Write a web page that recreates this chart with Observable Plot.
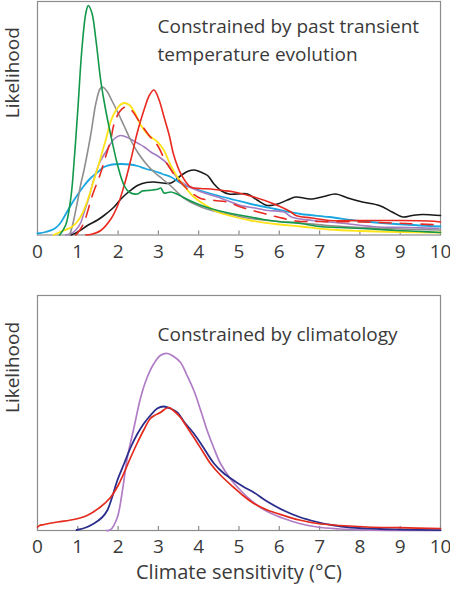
<!DOCTYPE html>
<html>
<head>
<meta charset="utf-8">
<script src="https://cdn.jsdelivr.net/npm/d3@7"></script>
<script src="https://cdn.jsdelivr.net/npm/@observablehq/plot@0.6"></script>
<style>
  html, body { margin: 0; padding: 0; background: #fff; }
  #chart { width: 450px; }
  #chart svg { display: block; }
</style>
</head>
<body>
<div id="chart"></div>
<script>
// ---- data (x = climate sensitivity °C, y = likelihood, arbitrary units) ----
const xTicks = [0, 1, 2, 3, 4, 5, 6, 7, 8, 9, 10];
const topTitle = "Constrained by past transient\ntemperature evolution";
const bottomTitle = "Constrained by climatology";
const yLabel = "Likelihood";
const xLabel = "Climate sensitivity (°C)";

// top panel series
const topBlack = [[0.83,0],[1.0,3],[1.24,9.5],[1.49,15],[1.65,19.5],[1.9,28],[2.07,36],[2.23,42],[2.48,49.5],[2.7,52.5],[2.89,53],[3.1,52],[3.31,52],[3.56,59.5],[3.75,64],[3.89,65],[4.05,63],[4.22,59.5],[4.38,51],[4.55,44.5],[4.75,41],[4.96,41],[5.21,41],[5.45,35],[5.71,29.5],[5.96,31],[6.2,35],[6.41,38],[6.6,37],[6.82,36],[7.1,38.5],[7.4,41],[7.7,37],[8.06,33],[8.48,29.5],[8.8,23],[9.06,18],[9.3,19.5],[9.55,20.5],[9.8,20],[10,19.5]];
const topCyan = [[0,1.5],[0.2,3],[0.41,6],[0.55,11],[0.66,18],[0.83,30],[0.99,40],[1.15,49],[1.32,57],[1.5,63],[1.65,68],[1.85,70.5],[2.07,71],[2.3,70.5],[2.48,69],[2.7,66],[2.89,64],[3.1,61],[3.31,58],[3.64,50],[4.0,45],[4.47,39.5],[4.9,35],[5.29,31],[5.9,26],[6.53,21],[7.24,18],[8.0,14],[8.89,11],[10,8.5]];
const topPurple = [[0.7,0],[0.83,1.5],[0.95,5],[1.07,12],[1.16,23],[1.28,38],[1.40,56],[1.55,73],[1.74,86],[1.9,96],[2.05,99.5],[2.2,98],[2.35,95],[2.48,92],[2.65,88],[2.81,83],[3.02,78],[3.23,71],[3.45,58],[3.64,51],[4.0,44],[4.47,38],[5.04,29.5],[5.4,27],[5.71,24.5],[6.12,23],[6.3,18],[6.82,14.5],[7.5,12],[8.47,8],[9.2,7.5],[9.96,6.5]];
const topGray = [[0.8,0],[0.87,10],[0.99,33],[1.08,52],[1.16,66],[1.32,100],[1.45,132],[1.55,146],[1.61,148],[1.72,144],[1.85,134],[2.0,122],[2.15,109],[2.3,96],[2.48,83],[2.7,71],[2.89,63],[3.1,56],[3.31,49],[3.63,37],[4.0,29],[4.47,23],[4.9,19.5],[5.29,16.5],[6.0,13.5],[6.53,12],[7.2,9.5],[8.0,7.5],[9.0,6],[10,5]];
const topYellow = [[0.4,0],[0.65,4.5],[0.85,8],[1.0,14],[1.12,22],[1.28,39],[1.40,55],[1.5,68],[1.6,82],[1.7,96],[1.82,114],[1.95,125],[2.05,130],[2.15,132],[2.28,130],[2.42,122],[2.56,110],[2.75,100],[2.98,93],[3.14,84.5],[3.3,70],[3.47,58],[3.7,46],[3.88,38],[4.2,29],[4.47,23],[4.9,18],[5.29,14.5],[6.0,10.5],[6.53,8.5],[7.23,5.5],[8.0,4],[9.0,3],[10,2.5]];
const topRedDash = [[0.95,0],[1.05,5],[1.16,13],[1.24,23],[1.36,39.5],[1.55,60],[1.65,73],[1.82,96],[1.9,111],[2.05,124],[2.19,128],[2.35,124],[2.5,115],[2.77,99.5],[2.98,89.5],[3.2,72],[3.5,55],[3.8,43],[4.05,36.5],[4.4,34.5],[4.71,33],[5.04,28],[5.62,21.5],[5.96,18],[6.41,14],[7.0,13.5],[8.06,13],[9.14,11.5],[10,10]];
const topRed = [[1.2,0],[1.32,0.5],[1.57,4.5],[1.82,16],[1.99,29.5],[2.15,49.5],[2.32,76],[2.48,103],[2.65,126],[2.78,140],[2.89,145],[3.0,137],[3.14,118],[3.27,99.5],[3.38,80],[3.56,61],[3.8,48],[4.05,46.5],[4.3,46],[4.6,44.5],[4.88,43],[5.37,38],[5.87,31],[6.29,23],[6.41,19.5],[6.8,17],[7.24,14.5],[8.0,14.5],[8.89,14.5],[9.7,14],[10,13]];
const topGreen = [[0.55,0],[0.7,10],[0.83,38],[0.92,80],[1.0,125],[1.1,185],[1.2,222],[1.26,229.5],[1.35,222],[1.45,195],[1.57,154],[1.66,132],[1.74,115],[1.82,99.5],[1.99,69.5],[2.15,49.5],[2.27,43],[2.48,41],[2.6,44],[2.73,44.5],[2.85,45],[3.0,46],[3.06,47],[3.14,42],[3.31,43],[3.43,41.5],[3.6,38],[3.8,34],[4.1,29],[4.47,24.5],[4.87,21],[5.29,18],[5.6,15.5],[5.96,13.5],[6.53,11.5],[7.0,8.5],[7.5,7.5],[8.06,6.5],[8.5,5.5],[8.9,4.5],[9.5,3.5],[10,2.5]];

// bottom panel series
const botRed = [[0,3.5],[0.05,5],[0.16,6],[0.5,8.5],[0.9,11],[1.23,15],[1.56,23.5],[1.81,33],[2.0,45],[2.14,57],[2.3,72],[2.47,87],[2.63,100],[2.8,112],[2.9,115],[3.05,118],[3.15,121],[3.26,123],[3.4,119],[3.55,113],[3.7,104],[3.88,93],[4.1,79],[4.29,67],[4.55,55],[4.87,43],[5.1,35],[5.37,27],[5.7,20.5],[6.11,15],[6.5,10.5],[6.94,7],[7.5,5],[8.18,3.5],[9.0,2.8],[10,2]];
const botNavy = [[0.97,0.5],[1.2,3],[1.4,7],[1.6,13],[1.73,20],[1.85,33],[1.98,50],[2.15,67],[2.31,83],[2.47,96],[2.64,107],[2.8,115],[2.97,122],[3.13,124],[3.3,122],[3.47,118],[3.65,108],[3.88,97],[4.1,84],[4.38,67],[4.6,58],[4.87,50],[5.1,44],[5.37,38],[5.7,29],[6.11,20],[6.5,13.5],[6.94,8.5],[7.3,5.5],[7.77,3],[8.5,1.5],[9.0,1],[10,0.3]];
const botPurple = [[1.7,0],[1.81,0.7],[1.98,13],[2.1,38],[2.23,73],[2.4,104],[2.56,133],[2.72,153],[2.89,167],[3.05,175],[3.22,177],[3.38,174],[3.55,168],[3.7,156],[3.88,140],[4.05,120],[4.21,100],[4.38,82],[4.54,67],[4.8,51],[5.04,40],[5.3,30],[5.53,23],[5.8,17],[6.11,12],[6.5,7],[6.94,3.5],[7.5,1.5],[8.0,0.5],[10,0]];

// ---- drawing ----
const FONT = "'Open Sans', 'DejaVu Sans', sans-serif";
const TEXT = "#3a3a3a";
const FRAME = "#8c8c8c";

function panel({height, marginTop, marginBottom, yMax, series, title, titleDy, withXLabel}) {
  const marks = [
    Plot.frame({stroke: FRAME, strokeWidth: 1.2}),
    Plot.ruleX(xTicks, {y1: 0, y2: 4, stroke: FRAME, strokeWidth: 1.2}),
    Plot.axisX(xTicks, {tickSize: 0, tickPadding: 9, fontSize: 19, fill: TEXT, label: null}),
    Plot.text([yLabel], {frameAnchor: "left", dx: -25, rotate: -90, fontSize: 19, fill: TEXT}),
    Plot.text([title], {frameAnchor: "top-left", dx: 120, dy: titleDy, textAnchor: "start", lineAnchor: "top", lineHeight: 1.45, fontSize: 19, fill: TEXT})
  ];
  for (const s of series) {
    marks.push(Plot.line(s.data, {x: d => d[0], y: d => d[1], stroke: s.color, strokeWidth: s.width || 1.6, strokeDasharray: s.dash || null, curve: "catmull-rom"}));
  }
  if (withXLabel) {
    marks.push(Plot.text([xLabel], {frameAnchor: "bottom", dy: 48, fontSize: 20, fill: TEXT}));
  }
  return Plot.plot({
    width: 450,
    height,
    marginLeft: 37,
    marginRight: 10,
    marginTop,
    marginBottom,
    style: {fontFamily: FONT, color: TEXT, background: "#fff", overflow: "visible"},
    x: {domain: [0, 10]},
    y: {domain: [0, yMax], axis: null},
    marks
  });
}

const chart = document.getElementById("chart");
chart.append(panel({
  height: 270, marginTop: 1, marginBottom: 35.5, yMax: 233.5,
  title: topTitle, titleDy: 12,
  series: [
    {data: topBlack, color: "#1a1a1a"},
    {data: topCyan, color: "#1aa7e0", width: 1.8},
    {data: topPurple, color: "#a47cc2"},
    {data: topGray, color: "#8e8e8e"},
    {data: topYellow, color: "#ffe31a", width: 1.8},
    {data: topRedDash, color: "#e8291f", dash: "12,9"},
    {data: topRed, color: "#e8291f"},
    {data: topGreen, color: "#12984a"}
  ]
}));
chart.append(panel({
  height: 320, marginTop: 25, marginBottom: 60, yMax: 235,
  title: bottomTitle, titleDy: 26,
  withXLabel: true,
  series: [
    {data: botPurple, color: "#b07cc6", width: 1.7},
    {data: botNavy, color: "#2a2d8c", width: 1.8},
    {data: botRed, color: "#e32a1c", width: 1.7}
  ]
}));
</script>
</body>
</html>
